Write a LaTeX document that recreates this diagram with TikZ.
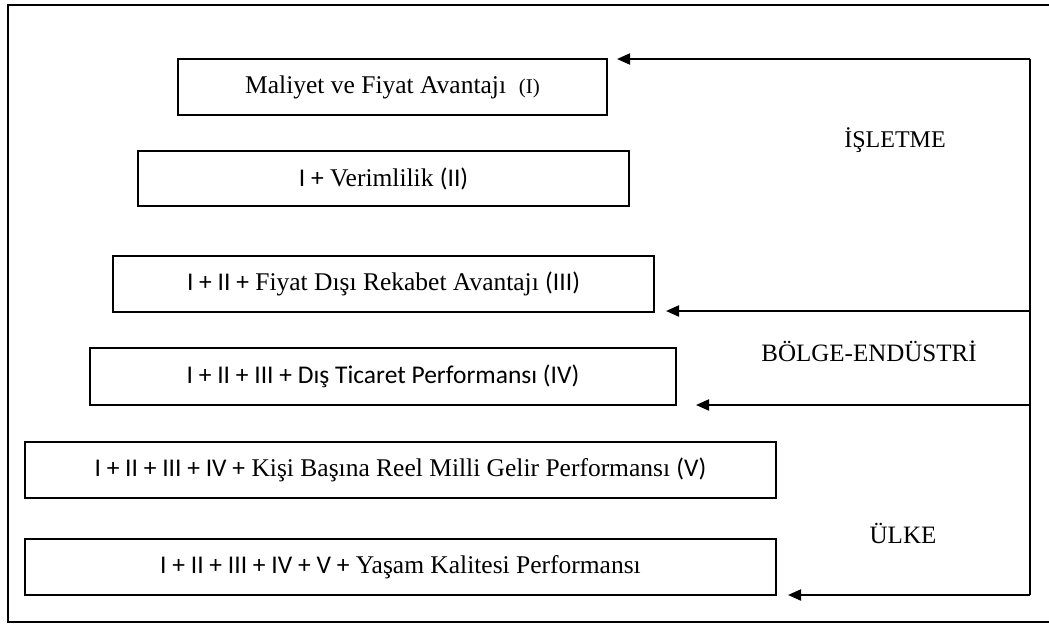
\documentclass[tikz,border=0pt]{standalone}
\usepackage{fontspec}
\setmainfont{Liberation Serif}
\newfontfamily\numfont{Carlito}
\usetikzlibrary{arrows.meta}
\tikzset{
  level/.style={draw, line width=1.3pt, rectangle, inner sep=0pt, align=center,
                font=\fontsize{25.5}{30}\selectfont},
  scopelabel/.style={inner sep=0pt, font=\fontsize{25}{30}\selectfont},
  feedback/.style={line width=2pt},
  arr/.style={line width=2pt, -{Triangle[length=13pt,width=11pt]}},
  frame/.style={line width=1.6pt}
}
\newcommand{\rn}[1]{{\numfont #1}}
\begin{document}
\begin{tikzpicture}[x=1pt,y=-1pt]
\useasboundingbox (0,0) rectangle (1049,624);
% outer frame (its right side lies past the page edge)
\draw[frame] (1060,5) -- (8,5) -- (8,622) -- (1060,622);

% the six levels
\node[level, minimum width=429pt, minimum height=56pt] (b1) at (392.5,87)
  {Maliyet ve Fiyat Avantajı \ {\fontsize{21}{24}\selectfont(I)}};
\node[level, minimum width=491pt, minimum height=55pt] (b2) at (383.5,178.5)
  {\rn{I +} Verimlilik \rn{(II)}};
\node[level, minimum width=541pt, minimum height=56pt] (b3) at (383.5,284)
  {\rn{I + II +} Fiyat Dışı Rekabet Avantajı \rn{(III)}};
\node[level, minimum width=586pt, minimum height=57pt] (b4) at (383,376.5)
  {\rn{I + II + III + Dış Ticaret Performansı (IV)}};
\node[level, minimum width=751pt, minimum height=56pt] (b5) at (400.5,470)
  {\rn{I + II + III + IV +} Kişi Başına Reel Milli Gelir Performansı \rn{(V)}};
\node[level, minimum width=751pt, minimum height=56pt] (b6) at (400.5,567)
  {\rn{I + II + III + IV + V +} Yaşam Kalitesi Performansı};

% scope labels
\node[scopelabel, font=\fontsize{24}{28}\selectfont] (l1) at (895,140) {İŞLETME};
\node[scopelabel] (l2) at (869,351) {BÖLGE-ENDÜSTRİ};
\node[scopelabel] (l3) at (903,533) {ÜLKE};

% feedback spine and arrows
\coordinate (r1) at (1030,59);
\coordinate (r2) at (1030,311);
\coordinate (r3) at (1030,405);
\coordinate (r4) at (1030,595);
\coordinate (t1) at (617,59);
\coordinate (t2) at (666,311);
\coordinate (t3) at (696,405);
\coordinate (t4) at (788,595);
\draw[feedback] (r1) -- (r4);
\draw[arr] (r1) -- (t1);
\draw[arr] (r2) -- (t2);
\draw[arr] (r3) -- (t3);
\draw[arr] (r4) -- (t4);
\end{tikzpicture}
\end{document}
